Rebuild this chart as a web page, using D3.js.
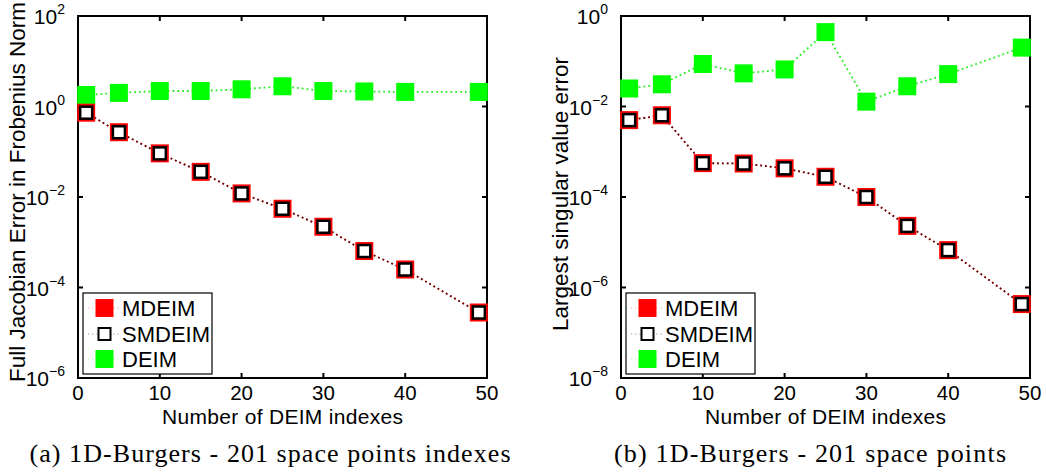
<!DOCTYPE html>
<html>
<head>
<meta charset="utf-8">
<script src="https://cdn.jsdelivr.net/npm/d3@7"></script>
<style>
  html, body { margin: 0; padding: 0; background: #fff; }
  svg { display: block; }
  .sans { font-family: "Liberation Sans", Arial, Helvetica, sans-serif; }
  .serif { font-family: "Liberation Serif", "Times New Roman", serif; }
</style>
</head>
<body>
<svg id="fig" width="1046" height="476"></svg>
<script>
// Number of DEIM indexes used for each run
const deimIndexes = [1, 5, 10, 15, 20, 25, 30, 35, 40, 49];

// (a) Full Jacobian error in Frobenius norm
const jacobianMDEIM  = [0.73, 0.27, 0.092, 0.036, 0.012, 0.0055, 0.0022, 6.4e-4, 2.5e-4, 2.8e-5];
const jacobianSMDEIM = [0.73, 0.27, 0.092, 0.036, 0.012, 0.0055, 0.0022, 6.4e-4, 2.5e-4, 2.8e-5];
const jacobianDEIM   = [1.8, 2.0, 2.2, 2.2, 2.4, 2.8, 2.2, 2.15, 2.1, 2.1];

// (b) Largest singular value error
const singularMDEIM  = [5.0e-3, 6.4e-3, 5.6e-4, 5.5e-4, 4.3e-4, 2.8e-4, 1.0e-4, 2.3e-5, 6.7e-6, 4.3e-7];
const singularSMDEIM = [5.0e-3, 6.4e-3, 5.6e-4, 5.5e-4, 4.3e-4, 2.8e-4, 1.0e-4, 2.3e-5, 6.7e-6, 4.3e-7];
const singularDEIM   = [0.025, 0.031, 0.087, 0.054, 0.066, 0.44, 0.0128, 0.028, 0.052, 0.2];

// Axis ticks
const xTicks = [0, 10, 20, 30, 40, 50];
const jacobianExponents = [-6, -4, -2, 0, 2];
const singularExponents = [-8, -6, -4, -2, 0];

const seriesNames = ["MDEIM", "SMDEIM", "DEIM"];

const svg = d3.select("#fig");
svg.append("rect").attr("width", 1046).attr("height", 476).attr("fill", "#fff");

function drawPanel(cfg) {
  const g = svg.append("g");
  const x = d3.scaleLinear().domain([0, 50]).range([cfg.left, cfg.right]);
  const y = d3.scaleLog()
    .domain([Math.pow(10, d3.min(cfg.exponents)), Math.pow(10, d3.max(cfg.exponents))])
    .range([cfg.bottom, cfg.top]);

  const tickLen = 5;

  // Inward ticks on all four sides
  const ticks = g.append("g").attr("stroke", "#000").attr("stroke-width", 2);
  xTicks.forEach(t => {
    ticks.append("line").attr("x1", x(t)).attr("x2", x(t))
      .attr("y1", cfg.bottom).attr("y2", cfg.bottom - tickLen);
    ticks.append("line").attr("x1", x(t)).attr("x2", x(t))
      .attr("y1", cfg.top).attr("y2", cfg.top + tickLen);
  });
  cfg.exponents.forEach(e => {
    const yy = y(Math.pow(10, e));
    ticks.append("line").attr("x1", cfg.left).attr("x2", cfg.left + tickLen)
      .attr("y1", yy).attr("y2", yy);
    ticks.append("line").attr("x1", cfg.right).attr("x2", cfg.right - tickLen)
      .attr("y1", yy).attr("y2", yy);
  });

  // X tick labels
  g.append("g").attr("class", "sans").selectAll("text").data(xTicks).join("text")
    .attr("x", d => x(d)).attr("y", cfg.bottom + 22)
    .attr("text-anchor", "middle").attr("font-size", 20.5).text(d => d);

  // Y tick labels: 10^e
  const yl = g.append("g").attr("class", "sans");
  cfg.exponents.forEach(e => {
    const t = yl.append("text")
      .attr("x", cfg.left - 13).attr("y", y(Math.pow(10, e)) + 8)
      .attr("text-anchor", "end").attr("font-size", 21);
    t.append("tspan").text("10");
    t.append("tspan").attr("font-size", 14).attr("dy", -10).text(e < 0 ? "\u2212" + (-e) : e);
  });

  // Axis titles
  g.append("text").attr("class", "sans")
    .attr("x", (cfg.left + cfg.right) / 2).attr("y", cfg.bottom + 46)
    .attr("text-anchor", "middle").attr("font-size", 21)
    .attr("textLength", 241).attr("lengthAdjust", "spacing")
    .text("Number of DEIM indexes");
  g.append("text").attr("class", "sans")
    .attr("transform", `translate(${cfg.yTitleX},${(cfg.top + cfg.bottom) / 2 + cfg.yTitleShift}) rotate(-90)`)
    .attr("text-anchor", "middle").attr("font-size", 22.5)
    .text(cfg.yTitle);

  // Series lines (dotted)
  const line = d3.line().x((d, i) => x(deimIndexes[i])).y(d => y(d));
  g.append("path").datum(cfg.deim).attr("d", line)
    .attr("fill", "none").attr("stroke", "#22ee22").attr("stroke-width", 1.8)
    .attr("stroke-dasharray", "1.8,3");
  g.append("path").datum(cfg.mdeim).attr("d", line)
    .attr("fill", "none").attr("stroke", "#d00000").attr("stroke-width", 1.8)
    .attr("stroke-dasharray", "1.8,3");
  g.append("path").datum(cfg.smdeim).attr("d", line)
    .attr("fill", "none").attr("stroke", "#000").attr("stroke-opacity", 0.5)
    .attr("stroke-width", 1.8).attr("stroke-dasharray", "1.8,3");

  // Axes box
  g.append("rect").attr("x", cfg.left).attr("y", cfg.top)
    .attr("width", cfg.right - cfg.left).attr("height", cfg.bottom - cfg.top)
    .attr("fill", "none").attr("stroke", "#000").attr("stroke-width", 2);

  // Markers
  const big = 18, small = 12;
  g.append("g").selectAll("rect").data(cfg.deim).join("rect")
    .attr("x", (d, i) => x(deimIndexes[i]) - big / 2).attr("y", d => y(d) - big / 2)
    .attr("width", big).attr("height", big).attr("fill", "#00ff00");
  g.append("g").selectAll("rect").data(cfg.mdeim).join("rect")
    .attr("x", (d, i) => x(deimIndexes[i]) - big / 2).attr("y", d => y(d) - big / 2)
    .attr("width", big).attr("height", big).attr("fill", "#ff0000");
  g.append("g").selectAll("rect").data(cfg.smdeim).join("rect")
    .attr("x", (d, i) => x(deimIndexes[i]) - small / 2).attr("y", d => y(d) - small / 2)
    .attr("width", small).attr("height", small).attr("fill", "#fff")
    .attr("stroke", "#000").attr("stroke-width", 2.5);

  // Legend
  const lg = g.append("g").attr("transform", `translate(${cfg.left + 5},${cfg.bottom - 85})`);
  lg.append("rect").attr("x", 0).attr("y", 0).attr("width", 129).attr("height", 81)
    .attr("fill", "#fff").attr("stroke", "#000").attr("stroke-width", 1.2);
  const rowY = [15, 41, 66];
  const legendLine = ["#ff9999", "#999999", "#99ff99"];
  seriesNames.forEach((name, i) => {
    lg.append("line").attr("x1", 5).attr("x2", 38).attr("y1", rowY[i]).attr("y2", rowY[i])
      .attr("stroke", legendLine[i]).attr("stroke-width", 1.2).attr("stroke-dasharray", "1.2,3");
    if (name === "MDEIM") {
      lg.append("rect").attr("x", 21.5 - 9).attr("y", rowY[i] - 9).attr("width", 18).attr("height", 18).attr("fill", "#ff0000");
    } else if (name === "SMDEIM") {
      lg.append("rect").attr("x", 21.5 - 6).attr("y", rowY[i] - 6).attr("width", 12).attr("height", 12)
        .attr("fill", "#fff").attr("stroke", "#000").attr("stroke-width", 2);
    } else {
      lg.append("rect").attr("x", 21.5 - 9).attr("y", rowY[i] - 9).attr("width", 18).attr("height", 18).attr("fill", "#00ff00");
    }
    lg.append("text").attr("class", "sans").attr("x", 39).attr("y", rowY[i] + 8)
      .attr("font-size", 22).text(name);
  });

  // Caption
  svg.append("text").attr("class", "serif")
    .attr("x", cfg.captionX).attr("y", 462).attr("text-anchor", "middle")
    .attr("font-size", 26).attr("textLength", cfg.captionWidth).attr("lengthAdjust", "spacing")
    .text(cfg.caption);
}

drawPanel({
  left: 78, right: 487, top: 16, bottom: 378,
  exponents: jacobianExponents,
  mdeim: jacobianMDEIM, smdeim: jacobianSMDEIM, deim: jacobianDEIM,
  yTitle: "Full Jacobian Error in Frobenius Norm", yTitleX: 25, yTitleShift: -5,
  caption: "(a) 1D-Burgers - 201 space points indexes", captionX: 270, captionWidth: 481
});
drawPanel({
  left: 621, right: 1030, top: 16, bottom: 378,
  exponents: singularExponents,
  mdeim: singularMDEIM, smdeim: singularSMDEIM, deim: singularDEIM,
  yTitle: "Largest singular value error", yTitleX: 568, yTitleShift: -3,
  caption: "(b) 1D-Burgers - 201 space points", captionX: 810, captionWidth: 392
});
</script>
</body>
</html>
